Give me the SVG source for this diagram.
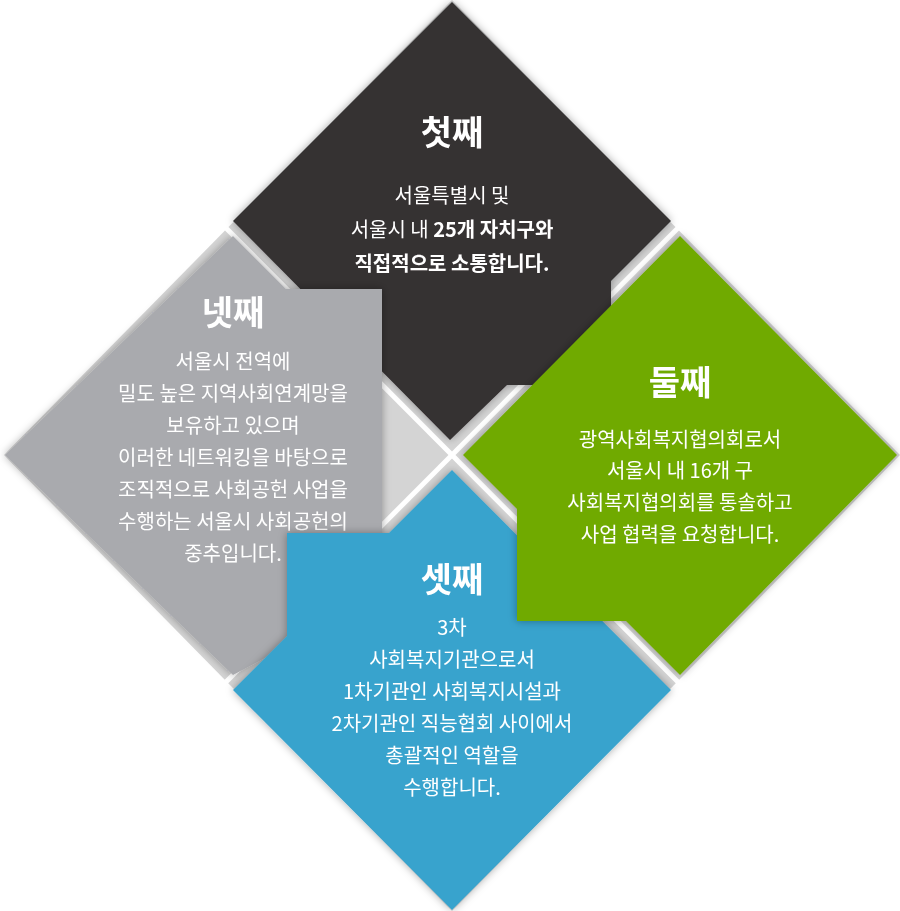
<svg xmlns="http://www.w3.org/2000/svg" width="900" height="911" viewBox="0 0 900 911">
<style>
text{font-family:"Noto Sans CJK KR","Noto Sans",sans-serif;fill:#fff;text-anchor:middle}
.t{font-size:34px;font-weight:700}
.b{font-size:20px}
</style>
<defs>
<filter id="sh" x="-10%" y="-10%" width="120%" height="120%"><feDropShadow dx="0" dy="0" stdDeviation="4" flood-color="#000" flood-opacity="0.35"/></filter>
</defs>
<g id="bg">
<polygon points="452,0 900,455 452,911 4,455" fill="#d4d4d4"/>
<line x1="226" y1="228" x2="678" y2="682" stroke="#fff" stroke-width="5"/>
<line x1="678" y1="228" x2="226" y2="682" stroke="#fff" stroke-width="5"/>
</g>
<g id="n1" filter="url(#sh)">
<path d="M452,2 L671,221 L611,281 L611,385 L507,385 L450,440 L233,221 Z" fill="#353031"/>
<text class="t" x="452" y="145">첫째</text>
<text class="b" x="452" y="203">서울특별시 및</text>
<text class="b" x="452" y="237">서울시 내 <tspan font-weight="700">25개 자치구와</tspan></text>
<text class="b" x="452" y="271" font-weight="700">직접적으로 소통합니다.</text>
</g>
<g id="n4" filter="url(#sh)">
<path d="M233,236 L286,289 L382,289 L382,560 L448,560 L233,675 L5,455 Z" fill="#a9aaae"/>
<text class="t" x="233" y="325">넷째</text>
<text class="b" x="233" y="369">서울시 전역에</text>
<text class="b" x="233" y="401">밀도 높은 지역사회연계망을</text>
<text class="b" x="233" y="433">보유하고 있으며</text>
<text class="b" x="233" y="465">이러한 네트워킹을 바탕으로</text>
<text class="b" x="233" y="497">조직적으로 사회공헌 사업을</text>
<text class="b" x="233" y="529">수행하는 서울시 사회공헌의</text>
<text class="b" x="233" y="561">중추입니다.</text>
</g>
<g id="n3" filter="url(#sh)">
<path d="M452,470 L671,690 L452,910 L233,690 L287,636 L287,533 L389,533 Z" fill="#39a3cd"/>
<text class="t" x="452" y="592">셋째</text>
<text class="b" x="452" y="635">3차</text>
<text class="b" x="452" y="667">사회복지기관으로서</text>
<text class="b" x="452" y="699">1차기관인 사회복지시설과</text>
<text class="b" x="452" y="731">2차기관인 직능협회 사이에서</text>
<text class="b" x="452" y="763">총괄적인 역할을</text>
<text class="b" x="452" y="795">수행합니다.</text>
</g>
<g id="n2" filter="url(#sh)">
<path d="M680,236 L897,455 L680,675 L626,621 L517,621 L517,509 L463,455 Z" fill="#70aa04"/>
<text class="t" x="680" y="395">둘째</text>
<text class="b" x="680" y="447">광역사회복지협의회로서</text>
<text class="b" x="680" y="478">서울시 내 16개 구</text>
<text class="b" x="680" y="510">사회복지협의회를 통솔하고</text>
<text class="b" x="680" y="542">사업 협력을 요청합니다.</text>
</g>
<g id="connectors"/>
</svg>
